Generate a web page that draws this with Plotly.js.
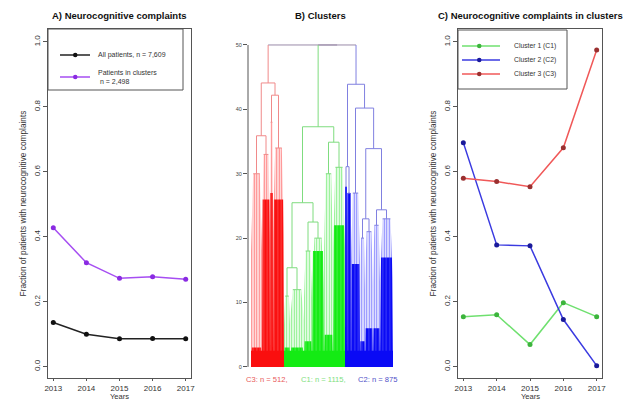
<!DOCTYPE html>
<html><head><meta charset="utf-8">
<script src="https://cdn.plot.ly/plotly-3.0.1.min.js"></script>
<style>html,body{margin:0;padding:0;background:#fff;} #chart{width:634px;height:403px;}</style>
</head><body><div id="chart"></div>
<script>
// ---------- data ----------
const years = [2013, 2014, 2015, 2016, 2017];
const allPatients = [0.136, 0.100, 0.086, 0.087, 0.086];
const patientsInClusters = [0.428, 0.320, 0.272, 0.277, 0.269];
const cluster1 = [0.154, 0.160, 0.068, 0.197, 0.154];
const cluster2 = [0.690, 0.375, 0.372, 0.145, 0.003];
const cluster3 = [0.580, 0.570, 0.554, 0.674, 0.975];
const fracTicks = [0, 0.2, 0.4, 0.6, 0.8, 1.0];
const heightTicks = [0, 10, 20, 30, 40, 50];
const legendA = ['All patients, n = 7,609', 'Patients in clusters<br> n = 2,498'];
const legendC = ['Cluster 1 (C1)', 'Cluster 2 (C2)', 'Cluster 3 (C3)'];
const clusterLabels = ['C3: n = 512,', 'C1: n = 1115,', 'C2: n = 875'];

// dendrogram: leaf bundles (left to right), merges like hclust (neg = bundle, pos = merge row)
const bundleSize = [11, 8, 3, 11, 6, 14, 8, 12, 9, 12, 2, 4, 9, 5, 8, 7, 13];
const bundleTop = [30, 33, 38, 34, 11, 12, 18, 20, 30, 31, 28, 27, 27, 20, 21, 22, 23];
const bundleDense = [3, 26, 27, 26, 3, 3, 4, 18, 5, 22, 28, 27, 16, 4, 6, 6, 17];
const bundleCluster = [3, 3, 3, 3, 1, 1, 1, 1, 1, 1, 2, 2, 2, 2, 2, 2, 2];
const mergeLeft = [-1, -3, 1, -5, -7, 4, -9, 6, -11, -14, -16, 10, -13, 9, 8, 3];
const mergeRight = [-2, -4, 2, -6, -8, 5, -10, 7, -12, -15, -17, 11, 12, 13, 14, 15];
const mergeHeight = [35.9, 42.2, 44.1, 15.4, 22.5, 25.5, 34.9, 37.3, 31.1, 23.0, 24.4, 33.9, 40.2, 43.9, 50, 50];

// ---------- helpers ----------
const W = 634, H = 403;
const PX = x => x / W, PY = y => 1 - y / H;
const FONT = 'Liberation Sans, Arial, sans-serif';
const frameCol = '#555';

const linkCol = ['#9a8aa8', '#7fdc7f', '#8080e0', '#f08a8a'];
const solidCol = ['#888', 'rgb(20,235,20)', 'rgb(10,10,245)', 'rgb(250,15,15)'];
const tintCol = ['#ccc', 'rgba(0,230,0,0.10)', 'rgba(0,0,255,0.13)', 'rgba(255,0,0,0.15)'];
const patCol = ['#888', 'rgba(40,225,40,0.6)', 'rgba(50,50,255,0.6)', 'rgba(255,50,50,0.6)'];

// ---------- dendrogram layout ----------
const bx0 = [], bx1 = [];
let acc = 0;
bundleSize.forEach(s => { bx0.push(acc); acc += s; bx1.push(acc); });
const nodeX = [], nodeH = [], nodeC = [];
const seg = [0, 1, 2, 3].map(() => ({x: [], y: []}));
function child(k) {
  if (k < 0) { const i = -k - 1; return {x: (bx0[i] + bx1[i]) / 2, h: bundleTop[i], c: bundleCluster[i]}; }
  const j = k - 1; return {x: nodeX[j], h: nodeH[j], c: nodeC[j]};
}
function addSeg(c, xa, ya, xb, yb) { seg[c].x.push(xa, xb, null); seg[c].y.push(ya, yb, null); }
mergeHeight.forEach((h, j) => {
  const a = child(mergeLeft[j]), b = child(mergeRight[j]);
  const c = a.c === b.c ? a.c : 0;
  nodeX.push((a.x + b.x) / 2); nodeH.push(h); nodeC.push(c);
  addSeg(a.c, a.x, a.h, a.x, h);
  addSeg(b.c, b.x, b.h, b.x, h);
  addSeg(c, a.x, h, b.x, h);
});
const hatch = [0, 1, 2, 3].map(() => ({x: [], y: []}));
const dense = [0, 1, 2, 3].map(() => ({x: [], y: []}));
const band = [0, 1, 2, 3].map(() => ({x: [], y: []}));
bundleSize.forEach((s, i) => {
  const x0 = bx0[i], x1 = bx1[i], t = bundleTop[i], d = bundleDense[i], c = bundleCluster[i], w = x1 - x0;
  hatch[c].x.push(x0, x0, x0 + 0.2 * w, x1 - 0.2 * w, x1, x1, x0, null);
  hatch[c].y.push(0, 0.6 * t, t, t, 0.6 * t, 0, 0, null);
  dense[c].x.push(x0, x0 + 0.08 * w, x1 - 0.08 * w, x1, x0, null);
  dense[c].y.push(0, d, d, 0, 0, null);
  band[c].x.push(x0, x0, x1, x1, x0, null);
  band[c].y.push(0, 2.5, 2.5, 0, 0, null);
  addSeg(c, x0 + 0.2 * w, t, x1 - 0.2 * w, t);
});

const traces = [];
[1, 2, 3].forEach(c => {
  traces.push({type: 'scatter', mode: 'lines', x: hatch[c].x, y: hatch[c].y, xaxis: 'x2', yaxis: 'y2',
    fill: 'toself', fillcolor: tintCol[c], line: {width: 0}, hoverinfo: 'skip', showlegend: false,
    fillpattern: {shape: '|', size: 2.5, solidity: 0.3, fgcolor: patCol[c], bgcolor: tintCol[c]}});
  traces.push({type: 'scatter', mode: 'lines', x: dense[c].x, y: dense[c].y, xaxis: 'x2', yaxis: 'y2',
    fill: 'toself', fillcolor: solidCol[c], line: {width: 0}, hoverinfo: 'skip', showlegend: false,
    fillpattern: {shape: '|', size: 3.5, solidity: 0.18, fgcolor: 'rgba(255,255,255,0.35)', bgcolor: solidCol[c]}});
  traces.push({type: 'scatter', mode: 'lines', x: band[c].x, y: band[c].y, xaxis: 'x2', yaxis: 'y2',
    fill: 'toself', fillcolor: solidCol[c], line: {width: 0}, hoverinfo: 'skip', showlegend: false});
});
[0, 1, 2, 3].forEach(c => {
  traces.push({type: 'scatter', mode: 'lines', x: seg[c].x, y: seg[c].y, xaxis: 'x2', yaxis: 'y2',
    line: {color: linkCol[c], width: 1}, hoverinfo: 'skip', showlegend: false});
});

// ---------- line panels ----------
function lineTrace(y, col, mcol, xa, ya, name) {
  return {type: 'scatter', mode: 'lines+markers', x: years, y: y, xaxis: xa, yaxis: ya, name: name,
    line: {color: col, width: 1.5}, marker: {color: mcol, size: 5}, showlegend: false};
}
traces.push(lineTrace(allPatients, '#222', '#111', 'x', 'y', legendA[0]));
traces.push(lineTrace(patientsInClusters, '#a64ef2', '#8a2be2', 'x', 'y', legendA[1]));
traces.push(lineTrace(cluster1, '#6fe06f', '#3cb43c', 'x3', 'y3', legendC[0]));
traces.push(lineTrace(cluster2, '#3a3ae0', '#1a1a9a', 'x3', 'y3', legendC[1]));
traces.push(lineTrace(cluster3, '#f05858', '#9a3030', 'x3', 'y3', legendC[2]));

const yDom = [PY(378), PY(29)];
const tf = {family: FONT, size: 8, color: '#333'};
function xYears(dom, anchor) {
  return {domain: dom, anchor: anchor, range: [2012.84, 2017.16], tickvals: years, ticks: 'outside', ticklen: 2,
    tickcolor: frameCol, showline: true, mirror: true, linecolor: frameCol, linewidth: 1, showgrid: false,
    zeroline: false, tickfont: tf};
}
function yFrac(anchor) {
  return {domain: yDom, anchor: anchor, range: [-0.035, 1.04], tickvals: fracTicks, tickformat: '.1f', tickangle: -90,
    ticks: 'outside', ticklen: 4, tickcolor: frameCol, showline: true, mirror: true, linecolor: frameCol, linewidth: 1,
    showgrid: false, zeroline: false, tickfont: tf,
    title: {text: 'Fraction of patients with neurocognitive complaints', font: {family: FONT, size: 8.3, color: '#333'}, standoff: 4}};
}

const shapes = [], annotations = [];
// dendrogram y axis line (0..50)
shapes.push({type: 'line', xref: 'x2 domain', yref: 'y2', x0: 0, x1: 0, y0: 0, y1: 50, line: {color: frameCol, width: 1}});
// legend A
shapes.push({type: 'rect', xref: 'paper', yref: 'paper', x0: PX(48), x1: PX(183), y0: PY(90), y1: PY(29), line: {color: frameCol, width: 1}});
[[55, '#222', '#111'], [77, '#a64ef2', '#8a2be2']].forEach((e, i) => {
  shapes.push({type: 'line', xref: 'paper', yref: 'paper', x0: PX(60), x1: PX(90), y0: PY(e[0]), y1: PY(e[0]), line: {color: e[1], width: 1.5}});
  shapes.push({type: 'circle', xref: 'paper', yref: 'paper', x0: PX(73), x1: PX(77.5), y0: PY(e[0] + 2.25), y1: PY(e[0] - 2.25), fillcolor: e[2], line: {width: 0}});
  annotations.push({xref: 'paper', yref: 'paper', x: PX(96), y: PY(e[0]), xanchor: 'left', yanchor: 'middle', align: 'left',
    text: legendA[i], showarrow: false, font: {family: FONT, size: 7, color: '#333'}});
});
// legend C
shapes.push({type: 'rect', xref: 'paper', yref: 'paper', x0: PX(458), x1: PX(567), y0: PY(89), y1: PY(30), line: {color: frameCol, width: 1}});
[[46, '#6fe06f', '#3cb43c'], [60, '#3a3ae0', '#1a1a9a'], [74, '#f05858', '#9a3030']].forEach((e, i) => {
  shapes.push({type: 'line', xref: 'paper', yref: 'paper', x0: PX(462), x1: PX(500), y0: PY(e[0]), y1: PY(e[0]), line: {color: e[1], width: 1.5}});
  shapes.push({type: 'circle', xref: 'paper', yref: 'paper', x0: PX(477), x1: PX(481.5), y0: PY(e[0] + 2.25), y1: PY(e[0] - 2.25), fillcolor: e[2], line: {width: 0}});
  annotations.push({xref: 'paper', yref: 'paper', x: PX(512), y: PY(e[0]), xanchor: 'left', yanchor: 'middle',
    text: legendC[i], showarrow: false, font: {family: FONT, size: 6.8, color: '#333'}});
});
// titles
[['A) Neurocognitive complaints', 119.5], ['B) Clusters', 320], ['C) Neurocognitive complaints in clusters', 530]].forEach(t => {
  annotations.push({xref: 'paper', yref: 'paper', x: PX(t[1]), y: PY(15), xanchor: 'center', yanchor: 'middle',
    text: '<b>' + t[0] + '</b>', showarrow: false, font: {family: FONT, size: 9.5, color: '#111'}});
});
// x axis titles
[119.5, 530].forEach(cx => {
  annotations.push({xref: 'paper', yref: 'paper', x: PX(cx), y: PY(402.5), xanchor: 'center', yanchor: 'bottom',
    text: 'Years', showarrow: false, font: {family: FONT, size: 7.6, color: '#333'}});
});
// cluster labels
[[267, '#e85a5a'], [323, '#7ee07e'], [377, '#5050c8']].forEach((e, i) => {
  annotations.push({xref: 'paper', yref: 'paper', x: PX(e[0]), y: PY(379), xanchor: 'center', yanchor: 'middle',
    text: clusterLabels[i], showarrow: false, font: {family: FONT, size: 7.6, color: e[1]}});
});

const layout = {
  width: W, height: H, margin: {l: 0, r: 0, t: 0, b: 0}, paper_bgcolor: '#fff', plot_bgcolor: '#fff',
  font: {family: FONT}, showlegend: false, hovermode: false,
  xaxis: xYears([PX(48), PX(191)], 'y'),
  yaxis: yFrac('x'),
  xaxis2: {domain: [PX(248), PX(396)], anchor: 'y2', range: [-3, 145], visible: false},
  yaxis2: {domain: yDom, anchor: 'x2', range: [-1.72, 52.48], tickvals: heightTicks, ticks: 'outside', ticklen: 4,
    tickcolor: frameCol, showline: false, showgrid: false, zeroline: false, tickfont: {family: FONT, size: 5.5, color: '#444'}},
  xaxis3: xYears([PX(458), PX(602)], 'y3'),
  yaxis3: yFrac('x3'),
  shapes: shapes, annotations: annotations
};
Plotly.newPlot('chart', traces, layout, {staticPlot: true, displayModeBar: false});
</script></body></html>
